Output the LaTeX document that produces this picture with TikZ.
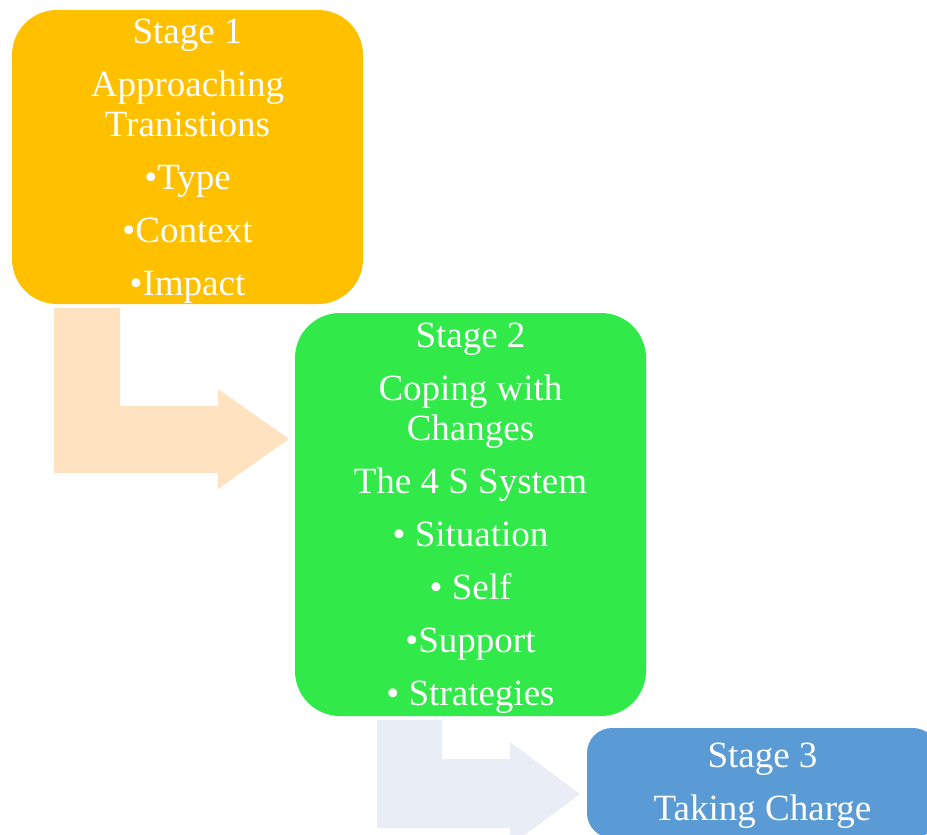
\documentclass[tikz,border=0pt]{standalone}
\usepackage{fontspec}
\setmainfont{Liberation Serif}
\usepackage{tikz}
\definecolor{stageone}{HTML}{FFC000}
\definecolor{stagetwo}{HTML}{32E94A}
\definecolor{stagethree}{HTML}{5B9BD5}
\definecolor{arrowone}{HTML}{FFE2C0}
\definecolor{arrowtwo}{HTML}{E9EDF6}
\begin{document}
\begin{tikzpicture}
[x=1pt,y=-1pt]
\tikzset{stagebox/.style={rounded corners=45pt,minimum width=351pt,inner sep=0pt},
stagetext/.style={align=center,text=white,inner sep=0pt,font=\fontsize{37}{40}\selectfont}}
\useasboundingbox (0,0) rectangle (927,835);

\fill [arrowone] (54,308) -- (120,308) -- (120,406) -- (218,406) -- (218,389) -- (289,439) -- (218,489) -- (218,473) -- (54,473) -- cycle;
\fill [arrowtwo] (377,720) -- (442,720) -- (442,759) -- (510,759) -- (510,742) -- (580,794) -- (510,846) -- (510,828) -- (377,828) -- cycle;

\node [stagebox,fill=stageone,minimum height=294pt] (s1) at (187.5,157) {};
\node [stagebox,fill=stagetwo,minimum height=403pt] (s2) at (470.5,514.5) {};
\node [stagebox,fill=stagethree,minimum height=110pt,rounded corners=25pt] (s3) at (762.5,783) {};

\node [stagetext] (t1) at ([yshift=-4pt]s1.center) {Stage 1\\[13pt]Approaching\\Tranistions\\[13pt]•Type\\[13pt]•Context\\[13pt]•Impact};
\node [stagetext] (t2) at ([yshift=-4pt]s2.center) {Stage 2\\[13pt]Coping with\\Changes\\[13pt]The 4 S System\\[13pt]• Situation\\[13pt]• Self\\[13pt]•Support\\[13pt]• Strategies};
\node [stagetext] (t3) at ([yshift=-3pt]s3.center) {Stage 3\\[13pt]Taking Charge};

\end{tikzpicture}
\end{document}
